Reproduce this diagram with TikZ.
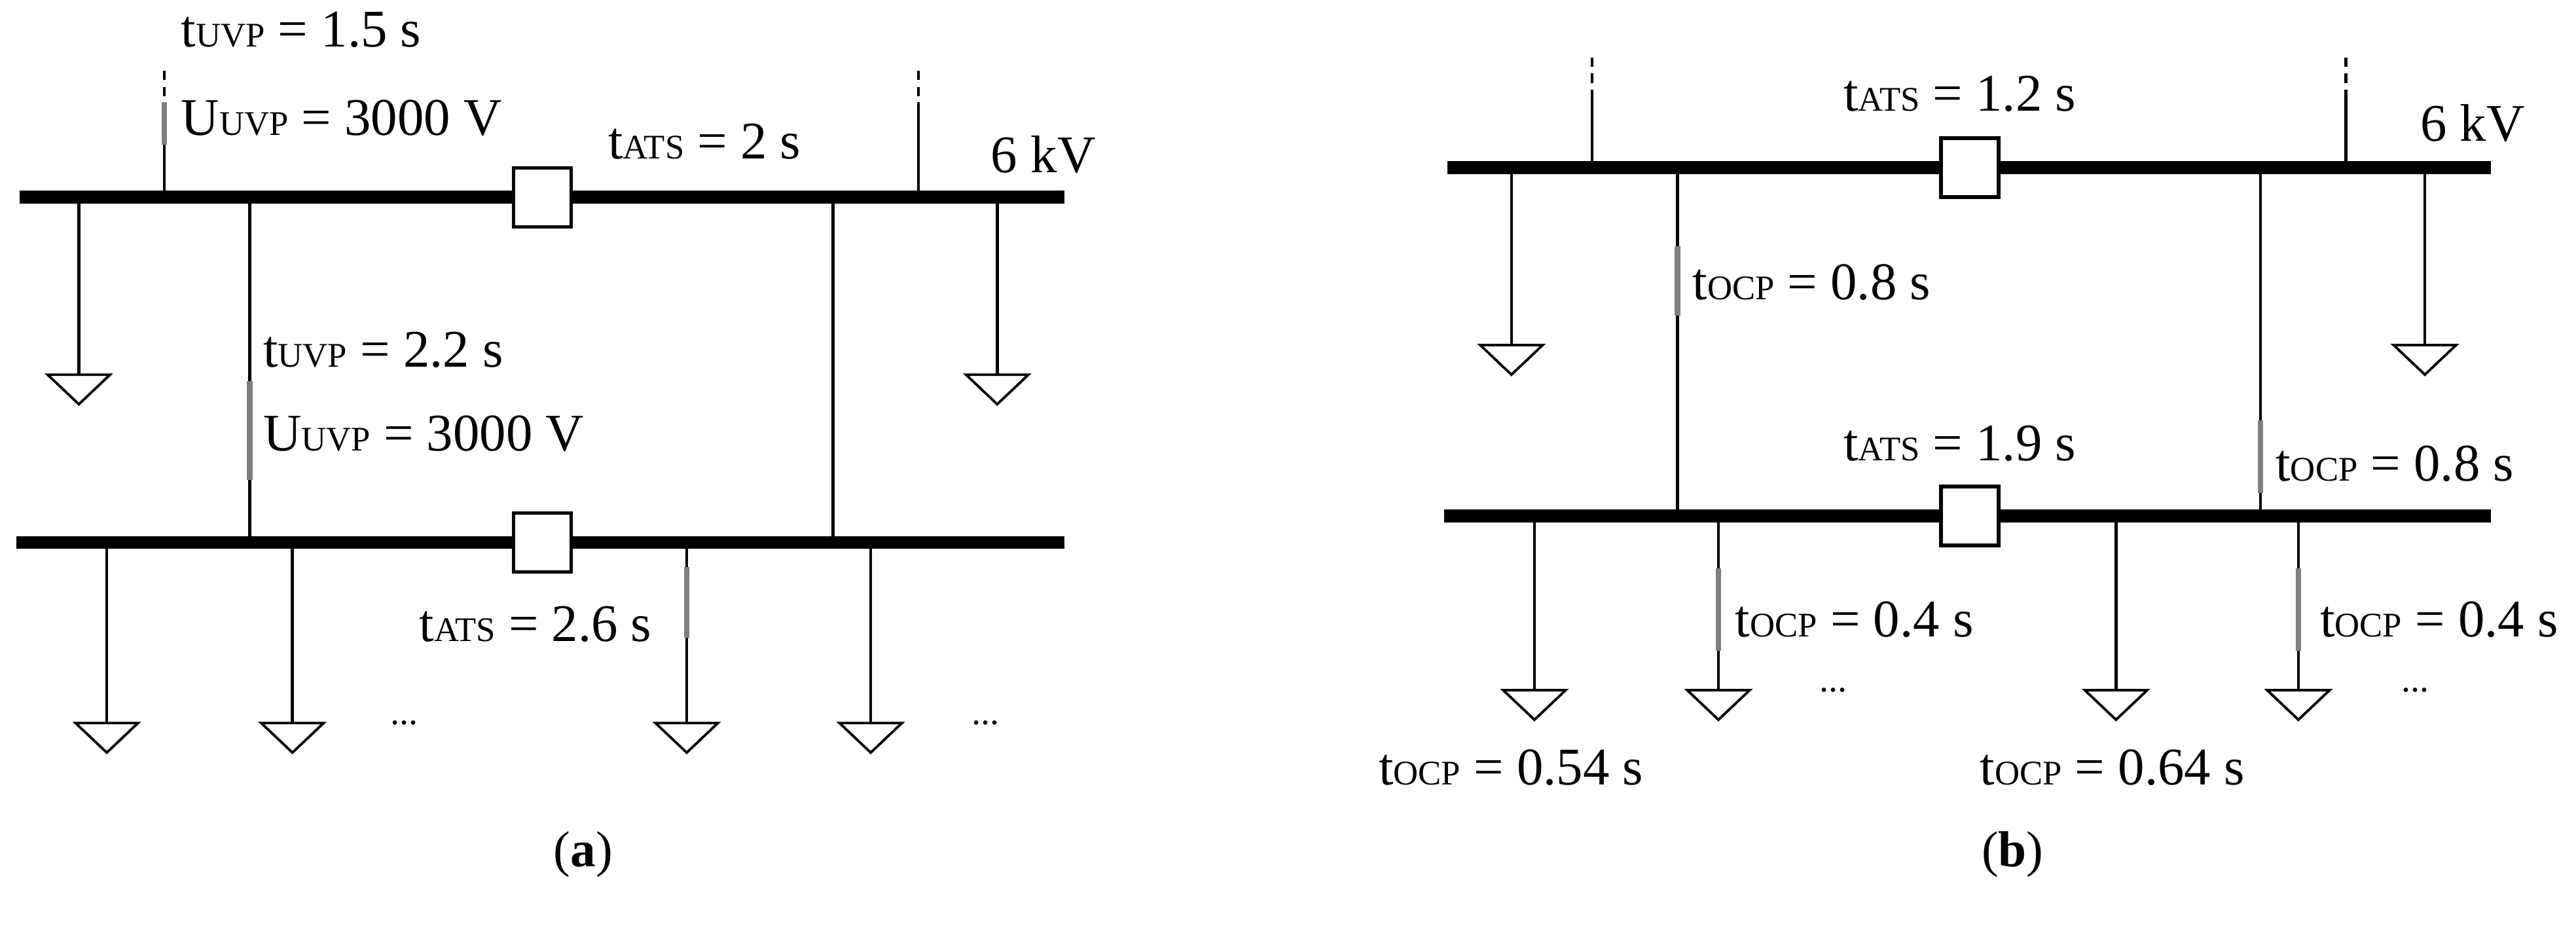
\documentclass[tikz,border=0pt]{standalone}
\usepackage{fontspec}
\setmainfont{Liberation Serif}
\begin{document}
\begin{tikzpicture}[x=0.0251cm,y=-0.0251cm,
  bus/.style={line width=5.5pt},
  wire/.style={line width=1.3pt},
  dsh/.style={line width=1.3pt,dash pattern=on 4pt off 3pt},
  gmark/.style={line width=2.4pt,gray},
  brk/.style={draw,line width=1.5pt,fill=white,minimum width=0.88cm,minimum height=0.9cm,inner sep=0pt},
  lbl/.style={anchor=west,inner sep=0pt,font=\fontsize{23}{23}\selectfont},
  dots/.style={inner sep=0pt,font=\fontsize{16}{16}\selectfont}]
\newcommand{\subl}[1]{{\fontsize{15}{15}\selectfont #1}}
\newcommand{\load}[3]{% name, x, ytop
  \coordinate (#1) at (#2,#3);
  \draw[line width=1.1pt] (#1) ++(-19,0) -- ++(38,0) -- ++(-19,18) -- cycle;}
\useasboundingbox (0,0) rectangle (1568,570);
% ================= (a)
\draw[bus] (12,120) coordinate (a1l) -- (648,120) coordinate (a1r);
\draw[bus] (10,330) coordinate (a2l) -- (648,330) coordinate (a2r);
\node[brk] (ab1) at (330,120) {};
\node[brk] (ab2) at (330,330) {};
% feeders up
\coordinate (af1) at (100,120); \coordinate (af1t) at (100,43);
\draw[wire] (af1) -- (100,62); \draw[dsh] (af1t) -- (100,62);
\draw[gmark] (100,62) -- (100,88);
\coordinate (af2) at (559,120); \coordinate (af2t) at (559,43);
\draw[wire] (af2) -- (559,62); \draw[dsh] (af2t) -- (559,62);
% ties
\coordinate (at1) at (152,120); \coordinate (ab1b) at (152,330);
\draw[wire] (at1) -- (ab1b); \draw[gmark] (152,232) -- (152,292);
\coordinate (at2) at (507,120); \coordinate (ab2b) at (507,330);
\draw[wire] (at2) -- (ab2b);
% loads
\draw[wire] (48,120) -- (48,228); \load{al1}{48}{228}
\draw[wire] (607,120) -- (607,228); \load{al2}{607}{228}
\foreach \n/\xx in {al3/65,al4/178,al5/418,al6/530}{
  \draw[wire] (\xx,330) -- (\xx,440); \load{\n}{\xx}{440}}
\draw[gmark] (418,345) -- (418,388);
\node[dots] (ad1) at (246,440) {...};
\node[dots] (ad2) at (600,440) {...};
% labels
\node[lbl] (la1) at (110,18) {t\subl{UVP} = 1.5 s};
\node[lbl] (la2) at (110,72) {U\subl{UVP} = 3000 V};
\node[lbl] (la3) at (370,86) {t\subl{ATS} = 2 s};
\node[lbl] (la4) at (603,94) {6 kV};
\node[lbl] (la5) at (160,213) {t\subl{UVP} = 2.2 s};
\node[lbl] (la6) at (160,264) {U\subl{UVP} = 3000 V};
\node[lbl] (la7) at (255,380) {t\subl{ATS} = 2.6 s};
\node[font=\fontsize{22}{22}\selectfont] (capa) at (355,520) {(\textbf{a})};
% ================= (b)
\draw[bus] (881,102) -- (1516,102);
\draw[bus] (879,314) -- (1516,314);
\node[brk] (bb1) at (1199,102) {};
\node[brk] (bb2) at (1199,314) {};
\foreach \xx in {969,1428}{
  \draw[wire] (\xx,102) -- (\xx,56); \draw[dsh] (\xx,35) -- (\xx,56);}
\coordinate (bt1) at (1021,102); \coordinate (bt1b) at (1021,314);
\draw[wire] (bt1) -- (bt1b); \draw[gmark] (1021,150) -- (1021,192);
\coordinate (bt2) at (1376,102); \coordinate (bt2b) at (1376,314);
\draw[wire] (bt2) -- (bt2b); \draw[gmark] (1376,256) -- (1376,300);
\draw[wire] (920,102) -- (920,210); \load{bl1}{920}{210}
\draw[wire] (1476,102) -- (1476,210); \load{bl2}{1476}{210}
\foreach \n/\xx in {bl3/934,bl4/1046,bl5/1288,bl6/1399}{
  \draw[wire] (\xx,314) -- (\xx,420); \load{\n}{\xx}{420}}
\draw[gmark] (1046,346) -- (1046,396);
\draw[gmark] (1399,346) -- (1399,396);
\node[dots] (bd1) at (1116,420) {...};
\node[dots] (bd2) at (1470,420) {...};
\node[lbl] (lb1) at (1122,57) {t\subl{ATS} = 1.2 s};
\node[lbl] (lb2) at (1473,75) {6 kV};
\node[lbl] (lb3) at (1030,172) {t\subl{OCP} = 0.8 s};
\node[lbl] (lb4) at (1122,270) {t\subl{ATS} = 1.9 s};
\node[lbl] (lb5) at (1385,282) {t\subl{OCP} = 0.8 s};
\node[lbl] (lb6) at (1056,377) {t\subl{OCP} = 0.4 s};
\node[lbl] (lb7) at (1412,377) {t\subl{OCP} = 0.4 s};
\node[lbl] (lb8) at (839,467) {t\subl{OCP} = 0.54 s};
\node[lbl] (lb9) at (1205,467) {t\subl{OCP} = 0.64 s};
\node[font=\fontsize{22}{22}\selectfont] (capb) at (1225,520) {(\textbf{b})};
\end{tikzpicture}
\end{document}
